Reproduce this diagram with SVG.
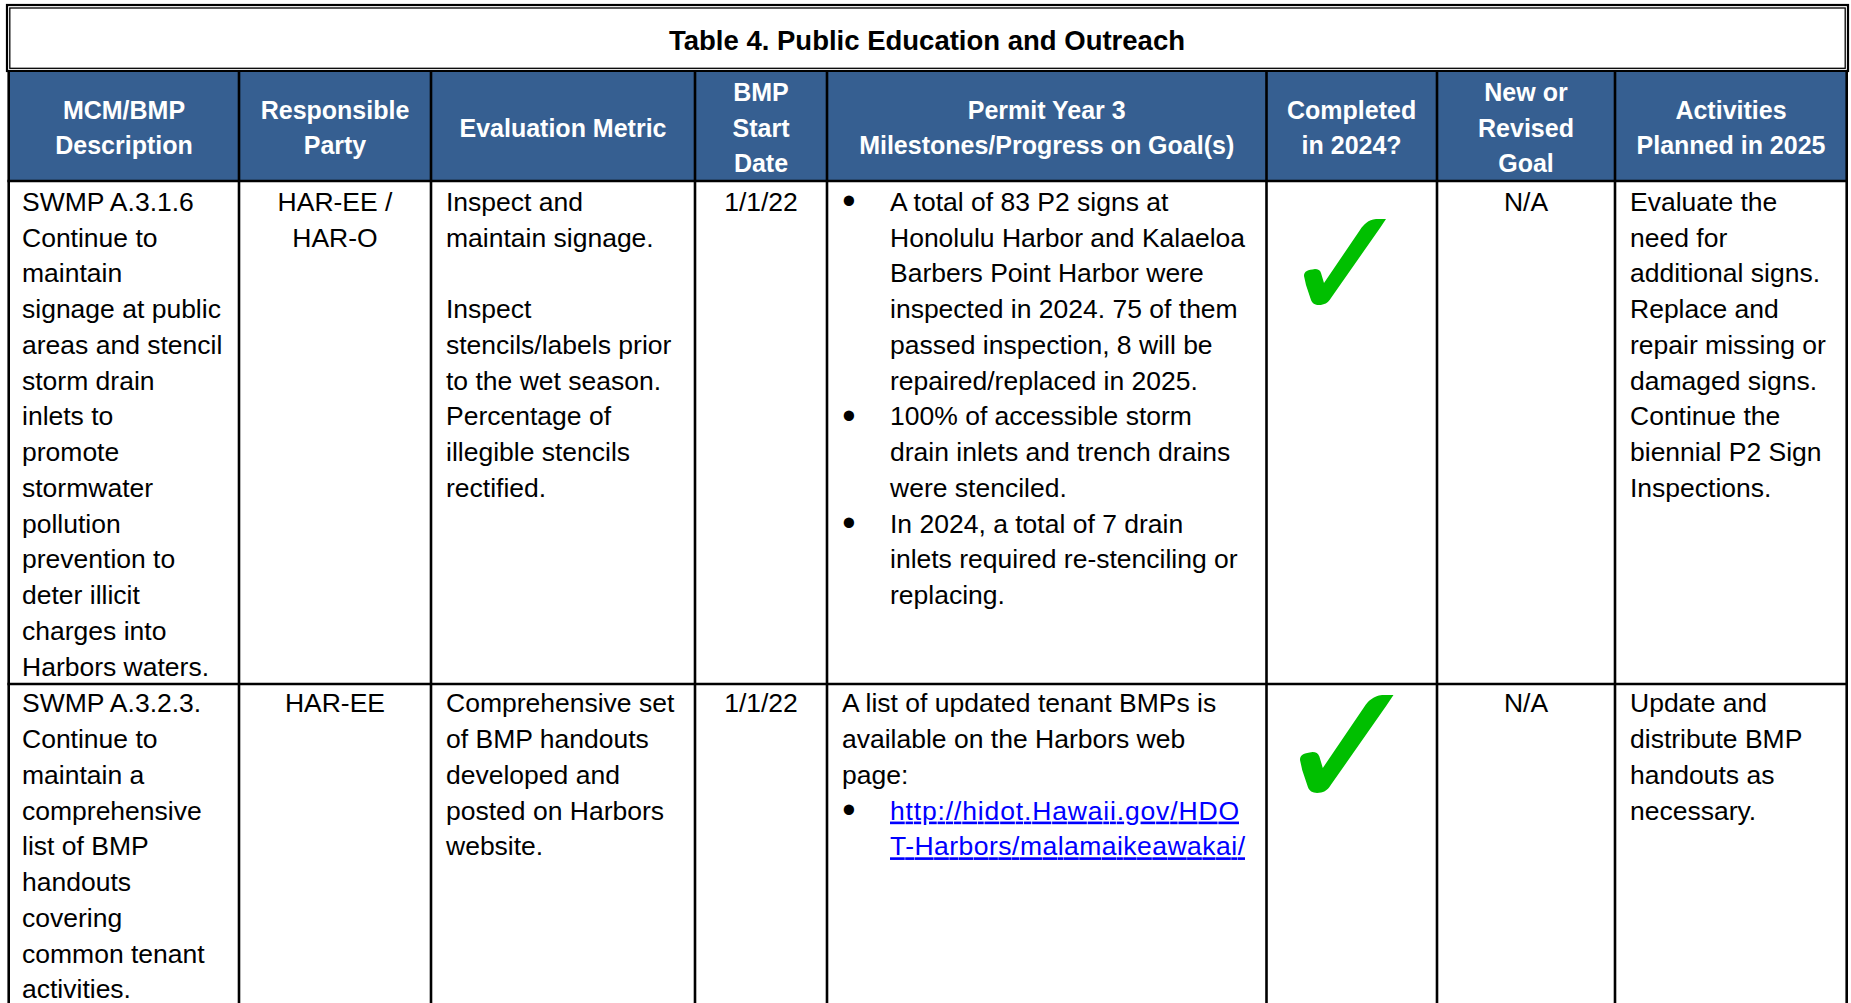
<svg xmlns="http://www.w3.org/2000/svg" width="1851" height="1003" viewBox="0 0 1851 1003">
<style>
.t{font-family:"Liberation Sans",Arial,sans-serif;font-size:26.5px;fill:#000}
.c{text-anchor:middle}
.b{font-family:"Liberation Sans",Arial,sans-serif;font-size:38px;fill:#000;text-anchor:middle}
.h{font-family:"Liberation Sans",Arial,sans-serif;font-size:25px;font-weight:bold;fill:#fff;text-anchor:middle}
.ttl{font-family:"Liberation Sans",Arial,sans-serif;font-size:27.5px;font-weight:bold;fill:#000;text-anchor:middle}
.ln{stroke:#000;stroke-width:2.6;fill:none}
.lnk{fill:#0000FF;text-decoration:underline}
.chk{fill:#00BF00}
</style>
<defs>
<path id="check" d="M0,57 C0,52 4,51 11,50 C14,50 16,51 17,54 L20,64 L56,11 C60,5 64,1 72,0 L82,0 L76,9 L27,79 C24,84 20,86 15,86 C11,86 8,84 7,81 L2,66 Z"/>
</defs>
<rect width="1851" height="1003" fill="#fff"/>

<g id="title">
<rect x="7" y="5" width="1841" height="66" fill="#fff" stroke="#000" stroke-width="2.2"/>
<rect x="9.8" y="8" width="1835.4" height="60.3" fill="none" stroke="#000" stroke-width="1.3"/>
<text class="ttl" x="927" y="49.5">Table 4. Public Education and Outreach</text>
</g>

<g id="header">
<rect x="8.7" y="72" width="1838" height="109" fill="#365F91"/>
<text class="h"><tspan x="124" y="118.5">MCM/BMP</tspan><tspan x="124" y="154">Description</tspan></text>
<text class="h"><tspan x="335" y="118.5">Responsible</tspan><tspan x="335" y="154">Party</tspan></text>
<text class="h" x="563" y="136.5">Evaluation Metric</text>
<text class="h"><tspan x="761" y="101">BMP</tspan><tspan x="761" y="136.5">Start</tspan><tspan x="761" y="172">Date</tspan></text>
<text class="h"><tspan x="1046.7" y="118.5">Permit Year 3</tspan><tspan x="1046.7" y="154">Milestones/Progress on Goal(s)</tspan></text>
<text class="h"><tspan x="1351.6" y="118.5">Completed</tspan><tspan x="1351.6" y="154">in 2024?</tspan></text>
<text class="h"><tspan x="1526" y="101">New or</tspan><tspan x="1526" y="136.5">Revised</tspan><tspan x="1526" y="172">Goal</tspan></text>
<text class="h"><tspan x="1731" y="118.5">Activities</tspan><tspan x="1731" y="154">Planned in 2025</tspan></text>
</g>

<g id="row1">
<text class="t"><tspan x="22" y="210.8">SWMP A.3.1.6</tspan><tspan x="22" dy="35.75">Continue to</tspan><tspan x="22" dy="35.75">maintain</tspan><tspan x="22" dy="35.75">signage at public</tspan><tspan x="22" dy="35.75">areas and stencil</tspan><tspan x="22" dy="35.75">storm drain</tspan><tspan x="22" dy="35.75">inlets to</tspan><tspan x="22" dy="35.75">promote</tspan><tspan x="22" dy="35.75">stormwater</tspan><tspan x="22" dy="35.75">pollution</tspan><tspan x="22" dy="35.75">prevention to</tspan><tspan x="22" dy="35.75">deter illicit</tspan><tspan x="22" dy="35.75">charges into</tspan><tspan x="22" dy="35.75">Harbors waters.</tspan></text>
<text class="t c"><tspan x="335" y="210.8">HAR-EE /</tspan><tspan x="335" dy="35.75">HAR-O</tspan></text>
<text class="t"><tspan x="446" y="210.8">Inspect and</tspan><tspan x="446" dy="35.75">maintain signage.</tspan><tspan x="446" dy="71.5">Inspect</tspan><tspan x="446" dy="35.75">stencils/labels prior</tspan><tspan x="446" dy="35.75">to the wet season.</tspan><tspan x="446" dy="35.75">Percentage of</tspan><tspan x="446" dy="35.75">illegible stencils</tspan><tspan x="446" dy="35.75">rectified.</tspan></text>
<text class="t c" x="761" y="210.8">1/1/22</text>
<text class="b"><tspan x="849" y="214">•</tspan><tspan x="849" y="428.5">•</tspan><tspan x="849" y="535.75">•</tspan></text>
<text class="t"><tspan x="890" y="210.8">A total of 83 P2 signs at</tspan><tspan x="890" dy="35.75">Honolulu Harbor and Kalaeloa</tspan><tspan x="890" dy="35.75">Barbers Point Harbor were</tspan><tspan x="890" dy="35.75">inspected in 2024. 75 of them</tspan><tspan x="890" dy="35.75">passed inspection, 8 will be</tspan><tspan x="890" dy="35.75">repaired/replaced in 2025.</tspan><tspan x="890" dy="35.75">100% of accessible storm</tspan><tspan x="890" dy="35.75">drain inlets and trench drains</tspan><tspan x="890" dy="35.75">were stenciled.</tspan><tspan x="890" dy="35.75">In 2024, a total of 7 drain</tspan><tspan x="890" dy="35.75">inlets required re-stenciling or</tspan><tspan x="890" dy="35.75">replacing.</tspan></text>
<use href="#check" class="chk" transform="translate(1304,219)"/>
<text class="t c" x="1526" y="210.8">N/A</text>
<text class="t"><tspan x="1630" y="210.8">Evaluate the</tspan><tspan x="1630" dy="35.75">need for</tspan><tspan x="1630" dy="35.75">additional signs.</tspan><tspan x="1630" dy="35.75">Replace and</tspan><tspan x="1630" dy="35.75">repair missing or</tspan><tspan x="1630" dy="35.75">damaged signs.</tspan><tspan x="1630" dy="35.75">Continue the</tspan><tspan x="1630" dy="35.75">biennial P2 Sign</tspan><tspan x="1630" dy="35.75">Inspections.</tspan></text>
</g>

<g id="row2">
<text class="t"><tspan x="22" y="712.3">SWMP A.3.2.3.</tspan><tspan x="22" dy="35.75">Continue to</tspan><tspan x="22" dy="35.75">maintain a</tspan><tspan x="22" dy="35.75">comprehensive</tspan><tspan x="22" dy="35.75">list of BMP</tspan><tspan x="22" dy="35.75">handouts</tspan><tspan x="22" dy="35.75">covering</tspan><tspan x="22" dy="35.75">common tenant</tspan><tspan x="22" dy="35.75">activities.</tspan></text>
<text class="t c" x="335" y="712.3">HAR-EE</text>
<text class="t"><tspan x="446" y="712.3">Comprehensive set</tspan><tspan x="446" dy="35.75">of BMP handouts</tspan><tspan x="446" dy="35.75">developed and</tspan><tspan x="446" dy="35.75">posted on Harbors</tspan><tspan x="446" dy="35.75">website.</tspan></text>
<text class="t c" x="761" y="712.3">1/1/22</text>
<text class="t"><tspan x="842" y="712.3">A list of updated tenant BMPs is</tspan><tspan x="842" dy="35.75">available on the Harbors web</tspan><tspan x="842" dy="35.75">page:</tspan></text>
<text class="b" x="849" y="823">•</text>
<text class="t lnk" x="890" y="819.55" textLength="349" lengthAdjust="spacing">http://hidot.Hawaii.gov/HDO</text>
<text class="t lnk" x="890" y="855.3" textLength="355" lengthAdjust="spacing">T-Harbors/malamaikeawakai/</text>
<use href="#check" class="chk" transform="translate(1300,695) scale(1.14)"/>
<text class="t c" x="1526" y="712.3">N/A</text>
<text class="t"><tspan x="1630" y="712.3">Update and</tspan><tspan x="1630" dy="35.75">distribute BMP</tspan><tspan x="1630" dy="35.75">handouts as</tspan><tspan x="1630" dy="35.75">necessary.</tspan></text>
</g>

<g id="grid">
<line class="ln" x1="8.7" y1="72" x2="8.7" y2="1003"/>
<line class="ln" x1="239" y1="72" x2="239" y2="1003"/>
<line class="ln" x1="431" y1="72" x2="431" y2="1003"/>
<line class="ln" x1="695" y1="72" x2="695" y2="1003"/>
<line class="ln" x1="827" y1="72" x2="827" y2="1003"/>
<line class="ln" x1="1266.5" y1="72" x2="1266.5" y2="1003"/>
<line class="ln" x1="1437" y1="72" x2="1437" y2="1003"/>
<line class="ln" x1="1615" y1="72" x2="1615" y2="1003"/>
<line class="ln" x1="1846.7" y1="72" x2="1846.7" y2="1003"/>
<line class="ln" x1="7.4" y1="181" x2="1848" y2="181"/>
<line class="ln" x1="7.4" y1="684" x2="1848" y2="684"/>
</g>
</svg>
